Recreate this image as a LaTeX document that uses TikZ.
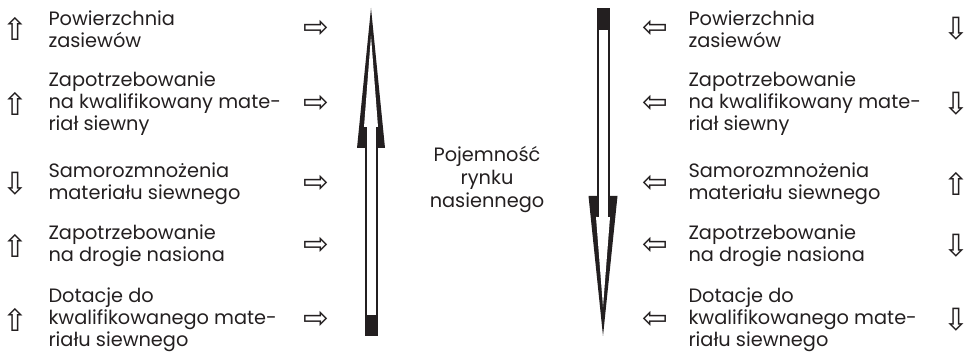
\documentclass[tikz,border=0pt]{standalone}
\usepackage{fontspec}
\setmainfont{Poppins}
\newfontfamily\arrowfont{DejaVu Sans}
\definecolor{ink}{RGB}{35,31,32}
\tikzset{every picture/.style={line width=0.75pt}}

\begin{document}
\begin{tikzpicture}[x=0.75pt,y=0.75pt,yscale=-1,xscale=1,
  txt/.style={anchor=west,inner sep=0pt,align=left,text=ink,font=\fontsize{14.5}{16.5}\selectfont},
  mid/.style={inner sep=0pt,align=center,text=ink,font=\fontsize{14.5}{17.25}\selectfont},
  sym/.style={inner sep=0pt,text=ink,font=\arrowfont\fontsize{23}{23}\selectfont}]
\useasboundingbox (0,0) rectangle (970,359);

%Shape: Arrow up [left]
\fill [ink] (371,8) -- (357,148) -- (385,148) -- cycle ;
\fill [white] (371,36) -- (364,127) -- (378,127) -- cycle ;
\fill [ink] (364.5,127) rectangle (377.5,336) ;
\fill [white] (366.5,126.5) rectangle (375.5,315) ;
%Shape: Arrow down [right]
\fill [ink] (588.5,196) -- (617.5,196) -- (603,336) -- cycle ;
\fill [white] (596,217) -- (610,217) -- (603,307) -- cycle ;
\fill [ink] (596.5,8) rectangle (609.5,217) ;
\fill [white] (598.5,30) rectangle (607.5,217.5) ;

% Text Node
\draw (487,179) node [mid] (poj) {Pojemność\\rynku\\nasiennego};

% Text Node
\draw (48,29) node [txt] (lpow) {Powierzchnia\\zasiewów};
% Text Node
\draw (48,104) node [txt] (lzap) {Zapotrzebowanie\\na kwalifikowany mate-\\riał siewny};
% Text Node
\draw (48,184) node [txt] (lsam) {Samorozmnożenia\\materiału siewnego};
% Text Node
\draw (48,246) node [txt] (ldro) {Zapotrzebowanie\\na drogie nasiona};
% Text Node
\draw (48,320) node [txt] (ldot) {Dotacje do\\kwalifikowanego mate-\\riału siewnego};

% Text Node
\draw (688,29) node [txt] (rpow) {Powierzchnia\\zasiewów};
% Text Node
\draw (688,104) node [txt] (rzap) {Zapotrzebowanie\\na kwalifikowany mate-\\riał siewny};
% Text Node
\draw (688,184) node [txt] (rsam) {Samorozmnożenia\\materiału siewnego};
% Text Node
\draw (688,246) node [txt] (rdro) {Zapotrzebowanie\\na drogie nasiona};
% Text Node
\draw (688,320) node [txt] (rdot) {Dotacje do\\kwalifikowanego mate-\\riału siewnego};

% Arrow symbols
\draw (15,29) node [sym] (lup1) {⇧};
\draw (15,104) node [sym] (lup2) {⇧};
\draw (15,184) node [sym] (ldn3) {⇩};
\draw (15,246) node [sym] (lup4) {⇧};
\draw (15,320) node [sym] (lup5) {⇧};
\foreach \y [count=\i] in {29,104,184,246,320}
  \draw (316,\y) node [sym] (lto\i) {⇨};
\foreach \y [count=\i] in {29,104,184,246,320}
  \draw (655,\y) node [sym] (rto\i) {⇦};
\draw (956,29) node [sym] (rdn1) {⇩};
\draw (956,104) node [sym] (rdn2) {⇩};
\draw (956,184) node [sym] (rup3) {⇧};
\draw (956,246) node [sym] (rdn4) {⇩};
\draw (956,320) node [sym] (rdn5) {⇩};

\end{tikzpicture}
\end{document}
